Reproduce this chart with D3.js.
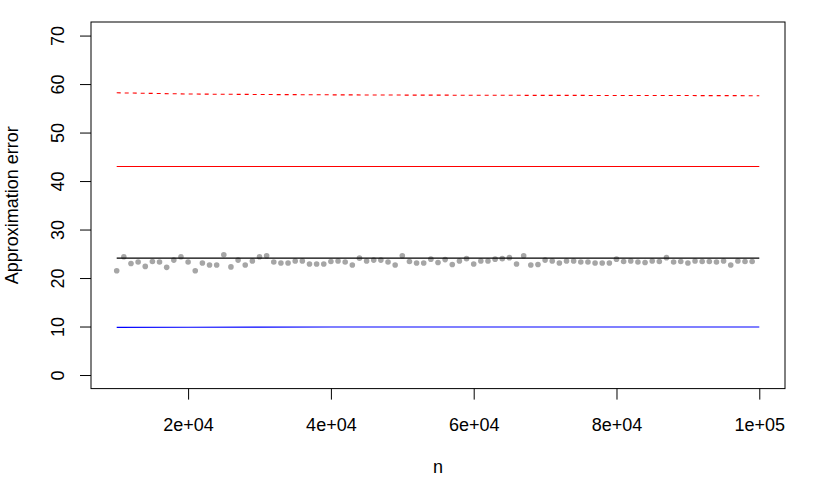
<!DOCTYPE html>
<html>
<head>
<meta charset="utf-8">
<script src="https://cdn.jsdelivr.net/npm/d3@7"></script>
<style>
  html, body { margin: 0; padding: 0; background: #fff; }
  svg { display: block; font-family: "Liberation Sans", Arial, Helvetica, sans-serif; }
</style>
</head>
<body>
<svg id="chart" width="830" height="503"></svg>
<script>
// ---- Data ----
// Simulated sample sizes (gray points): 10000 .. 99000
const pointN = d3.range(10000, 100000, 1000);
const pointErr = [
  21.5, 24.4, 23.0, 23.3, 22.4, 23.4, 23.3, 22.2, 23.7, 24.4,
  23.3, 21.5, 23.1, 22.7, 22.7, 24.8, 22.3, 23.7, 22.7, 23.5,
  24.4, 24.6, 23.3, 23.1, 23.1, 23.5, 23.5, 22.9, 22.9, 22.9,
  23.4, 23.5, 23.3, 22.7, 24.1, 23.5, 23.7, 23.7, 23.3, 22.7,
  24.6, 23.4, 23.1, 23.1, 23.9, 23.2, 23.8, 22.8, 23.5, 24.0,
  22.9, 23.5, 23.5, 23.9, 24.0, 24.2, 22.9, 24.6, 22.7, 22.8,
  23.7, 23.5, 23.1, 23.5, 23.5, 23.3, 23.3, 23.1, 23.1, 23.1,
  23.9, 23.4, 23.5, 23.3, 23.2, 23.5, 23.4, 24.2, 23.3, 23.4,
  23.1, 23.5, 23.4, 23.4, 23.3, 23.5, 22.7, 23.5, 23.4, 23.4
];
// Reference curves evaluated at n = 10000, 20000, ..., 100000
const curveN       = [10000, 20000, 30000, 40000, 50000, 60000, 70000, 80000, 90000, 100000];
const redDashed    = [58.2, 57.95, 57.85, 57.78, 57.73, 57.7, 57.67, 57.65, 57.63, 57.6];
const redSolid     = [43.0, 43.0, 43.0, 43.0, 43.0, 43.0, 43.0, 43.0, 43.0, 43.0];
const blackSolid   = [24.1, 24.1, 24.1, 24.1, 24.1, 24.1, 24.1, 24.1, 24.1, 24.1];
const blueSolid    = [9.82, 9.86, 9.88, 9.89, 9.9, 9.9, 9.9, 9.9, 9.9, 9.9];

const xTickValues = [20000, 40000, 60000, 80000, 100000];
const xTickLabels = ["2e+04", "4e+04", "6e+04", "8e+04", "1e+05"];
const yTickValues = [0, 10, 20, 30, 40, 50, 60, 70];
const xTitle = "n";
const yTitle = "Approximation error";

(function () {
// ---- Layout ----
const mLeft = 91, mRight = 785, mTop = 22, mBottom = 388.6;
const fontSize = 18;

const svg = d3.select("#chart");

const x = d3.scaleLinear().domain([6400, 103600]).range([mLeft, mRight]);
const y = d3.scaleLinear().domain([-2.8, 72.8]).range([mBottom, mTop]);

// Lines
const line = d3.line().x((d, i) => x(curveN[i])).y(d => y(d));
const series = [
  { data: redDashed, color: "#FF0000", dash: "4,4" },
  { data: redSolid, color: "#FF0000", dash: null },
  { data: blackSolid, color: "#000000", dash: null },
  { data: blueSolid, color: "#0000FF", dash: null }
];

// Points
svg.append("g").selectAll("circle")
  .data(pointErr)
  .join("circle")
  .attr("cx", (d, i) => x(pointN[i]))
  .attr("cy", d => y(d))
  .attr("r", 2.8)
  .attr("fill", "#A6A6A6");

svg.append("g").selectAll("path")
  .data(series)
  .join("path")
  .attr("d", s => line(s.data))
  .attr("fill", "none")
  .attr("stroke", s => s.color)
  .attr("stroke-width", 1.1)
  .attr("stroke-dasharray", s => s.dash);

// Box
svg.append("rect")
  .attr("x", mLeft).attr("y", mTop)
  .attr("width", mRight - mLeft).attr("height", mBottom - mTop)
  .attr("fill", "none").attr("stroke", "#000").attr("stroke-width", 1);

// X axis
const xAxis = d3.axisBottom(x)
  .tickValues(xTickValues)
  .tickFormat((d, i) => xTickLabels[i])
  .tickSize(11)
  .tickSizeOuter(0)
  .tickPadding(0);
const gx = svg.append("g").attr("transform", `translate(0,${mBottom})`).call(xAxis);
gx.select(".domain").remove();
gx.selectAll(".tick line").attr("stroke", "#000");
gx.selectAll(".tick text")
  .attr("y", 42.5).attr("dy", null)
  .attr("fill", "#000")
  .style("font-size", fontSize + "px")
  .style("font-family", "'Liberation Sans', Arial, sans-serif");

// Y axis
const yAxis = d3.axisLeft(y)
  .tickValues(yTickValues)
  .tickFormat(d3.format("d"))
  .tickSize(11)
  .tickSizeOuter(0);
const gy = svg.append("g").attr("transform", `translate(${mLeft},0)`).call(yAxis);
gy.select(".domain").remove();
gy.selectAll(".tick line").attr("stroke", "#000");
gy.selectAll(".tick text")
  .attr("x", 0).attr("y", -(mLeft - 64)).attr("dy", null)
  .attr("transform", "rotate(-90)")
  .attr("text-anchor", "middle")
  .attr("fill", "#000")
  .style("font-size", fontSize + "px")
  .style("font-family", "'Liberation Sans', Arial, sans-serif");

// Titles
svg.append("text")
  .attr("x", (mLeft + mRight) / 2).attr("y", 473)
  .attr("text-anchor", "middle")
  .style("font-size", fontSize + "px")
  .text(xTitle);

svg.append("text")
  .attr("transform", `translate(18,${(mTop + mBottom) / 2}) rotate(-90)`)
  .attr("text-anchor", "middle")
  .style("font-size", fontSize + "px")
  .text(yTitle);
})();
</script>
</body>
</html>
